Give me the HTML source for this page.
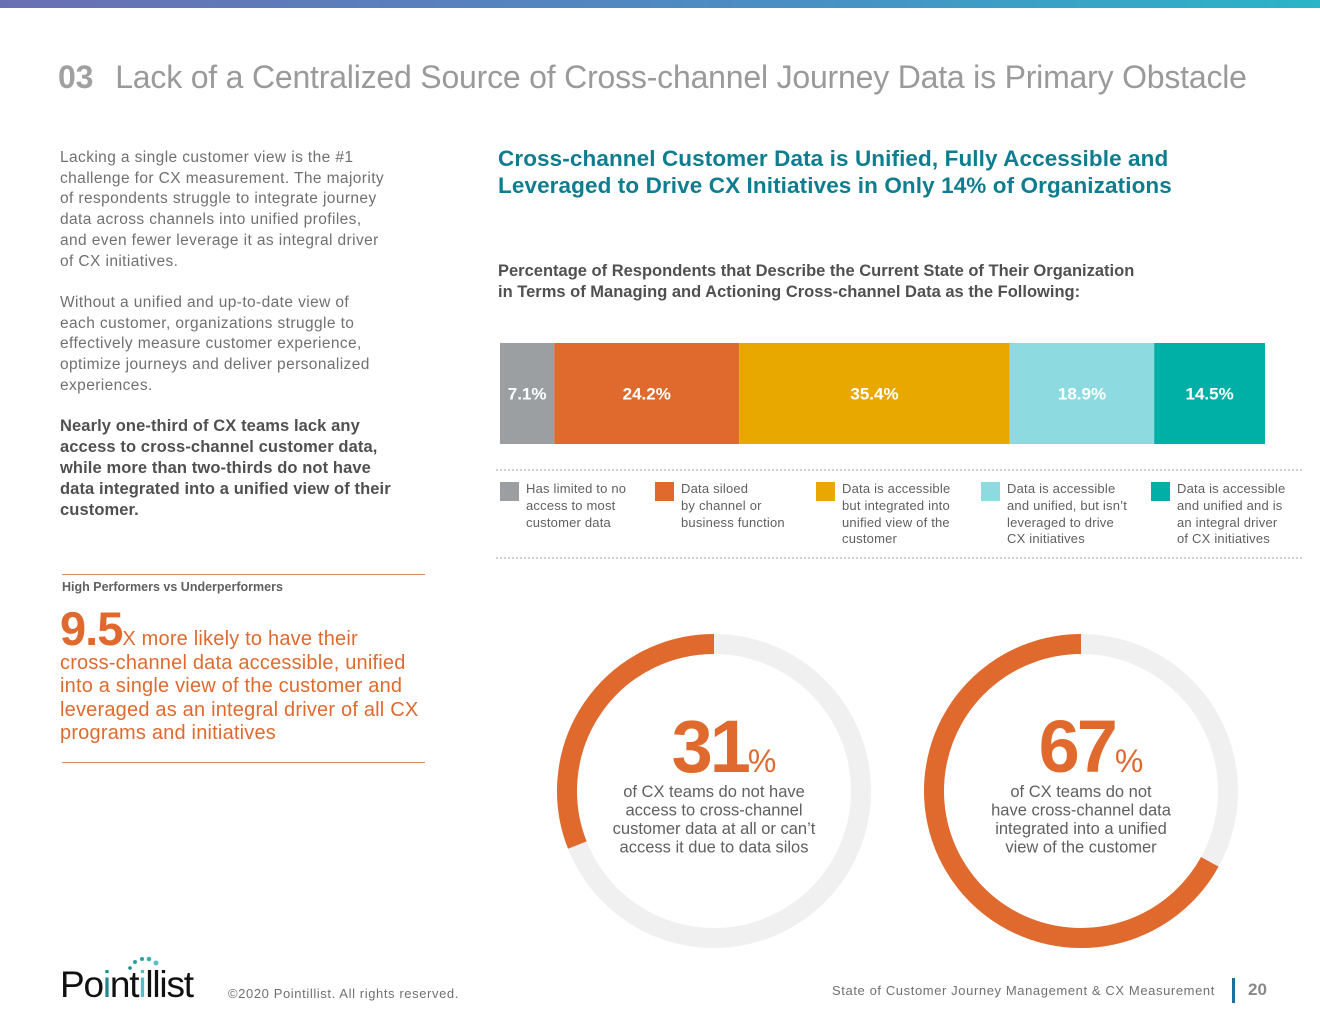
<!DOCTYPE html>
<html><head><meta charset="utf-8">
<style>
*{margin:0;padding:0;box-sizing:border-box}
body{width:1320px;height:1020px;background:#fff;position:relative;overflow:hidden;font-family:"Liberation Sans",sans-serif}
.abs{position:absolute}
.topbar{left:0;top:0;width:1320px;height:8px;background:linear-gradient(90deg,#6a6fb4,#4a8fc4 60%,#2ab5c8)}
.title{left:58px;top:59px;font-size:32px;color:#9a9a9a;white-space:nowrap;letter-spacing:-0.2px}
.title b{color:#a0a0a0;margin-right:22px}
.body{left:60px;font-size:15.5px;line-height:20.7px;color:#707070;white-space:nowrap;letter-spacing:0.4px}
.bold{color:#505050;font-weight:bold;font-size:16.5px;line-height:21px;letter-spacing:0.1px}
.h2{left:498px;top:145px;font-size:22.5px;font-weight:bold;color:#0e7d8f;line-height:27px;white-space:nowrap;letter-spacing:0.1px}
.h3{left:498px;top:261px;font-size:16.5px;font-weight:bold;color:#505050;line-height:20.5px;white-space:nowrap;letter-spacing:0}
.leg{font-size:13px;line-height:16.8px;color:#606060;white-space:nowrap;letter-spacing:0.2px}
.sw{width:19px;height:19px}
.dots{left:496px;width:806px;border-top:2px dotted #d0d0d0}
.hp{left:62px;top:580px;font-size:12.5px;font-weight:bold;color:#606060}
.big{left:60px;top:614px;color:#e06a2e;font-size:20px;line-height:23.5px;white-space:nowrap;letter-spacing:0.2px}
.big span{font-size:47px;font-weight:bold;letter-spacing:-1px;line-height:30px}
.rule{left:62px;width:363px;border-top:1px solid #e08a60}
.foot{font-size:13px;color:#707070;white-space:nowrap}
</style></head><body>
<div class="abs topbar"></div>
<div class="abs title"><b>03</b>Lack of a Centralized Source of Cross-channel Journey Data is Primary Obstacle</div>

<div class="abs body" style="top:148px">Lacking a single customer view is the #1<br>challenge for CX measurement. The majority<br>of respondents struggle to integrate journey<br>data across channels into unified profiles,<br>and even fewer leverage it as integral driver<br>of CX initiatives.</div>
<div class="abs body" style="top:293px">Without a unified and up-to-date view of<br>each customer, organizations struggle to<br>effectively measure customer experience,<br>optimize journeys and deliver personalized<br>experiences.</div>
<div class="abs body bold" style="top:416px">Nearly one-third of CX teams lack any<br>access to cross-channel customer data,<br>while more than two-thirds do not have<br>data integrated into a unified view of their<br>customer.</div>

<div class="abs rule" style="top:574px"></div>
<div class="abs hp">High Performers vs Underperformers</div>
<div class="abs big"><span>9.5</span>X more likely to have their<br>cross-channel data accessible, unified<br>into a single view of the customer and<br>leveraged as an integral driver of all CX<br>programs and initiatives</div>
<div class="abs rule" style="top:762px"></div>

<div class="abs h2">Cross-channel Customer Data is Unified, Fully Accessible and<br>Leveraged to Drive CX Initiatives in Only 14% of Organizations</div>
<div class="abs h3">Percentage of Respondents that Describe the Current State of Their Organization<br>in Terms of Managing and Actioning Cross-channel Data as the Following:</div>

<svg class="abs" style="left:0;top:0" width="1320" height="1020" id="chart"></svg>

<div class="abs dots" style="top:469px"></div>
<div class="abs dots" style="top:557px"></div>
<div id="legend"></div>

<div class="abs" style="left:60px;top:966px">
 <svg width="140" height="40" style="position:absolute;left:0;top:-10px">
  <circle cx="70" cy="12" r="1.8" fill="#1f8a8a"/><circle cx="75" cy="6" r="2" fill="#2aa0a0"/><circle cx="82" cy="3" r="2" fill="#2aa0a0"/><circle cx="89" cy="3" r="2.3" fill="#3ab0b0"/><circle cx="96" cy="7" r="2.5" fill="#5ac0c8"/>
 </svg>
 <div style="font-size:37px;color:#111;letter-spacing:-1.2px;line-height:37px">Po<span style="color:#1f8a8a">i</span>nt<span style="color:#5ab8c8">i</span>llist</div>
</div>
<div class="abs foot" style="left:228px;top:986px;letter-spacing:0.6px">©2020 Pointillist. All rights reserved.</div>
<div class="abs foot" style="left:832px;top:983px;letter-spacing:0.6px">State of Customer Journey Management &amp; CX Measurement</div>
<div class="abs" style="left:1232px;top:978px;width:3px;height:25px;background:#1a6fa0"></div>
<div class="abs" style="left:1248px;top:980px;font-size:17px;font-weight:bold;color:#888">20</div>

<script>
const categories=["Has limited to no access to most customer data","Data siloed by channel or business function","Data is accessible but integrated into unified view of the customer","Data is accessible and unified, but isn't leveraged to drive CX initiatives","Data is accessible and unified and is an integral driver of CX initiatives"];
const values=[7.1,24.2,35.4,18.9,14.5];
const valueLabels=["7.1%","24.2%","35.4%","18.9%","14.5%"];
const legendLines=[["Has limited to no","access to most","customer data"],["Data siloed","by channel or","business function"],["Data is accessible","but integrated into","unified view of the","customer"],["Data is accessible","and unified, but isn’t","leveraged to drive","CX initiatives"],["Data is accessible","and unified and is","an integral driver","of CX initiatives"]];
const colors=["#9c9fa1","#e06a2e","#e9a800","#8ddbe0","#00afa6"];
const donutValues=[31,67];
const donutLabels=["31","67"];
const donutTexts=[["of CX teams do not have","access to cross-channel","customer data at all or can’t","access it due to data silos"],["of CX teams do not","have cross-channel data","integrated into a unified","view of the customer"]];

const NS="http://www.w3.org/2000/svg";
const svg=document.getElementById('chart');
const total=values.reduce((a,b)=>a+b,0);
const X0=500,W=765,Y0=343,H=101;
const xScale=v=>v/total*W;
let acc=0;
values.forEach((v,i)=>{
  const r=document.createElementNS(NS,'rect');
  r.setAttribute('x',X0+xScale(acc));r.setAttribute('y',Y0);
  r.setAttribute('width',xScale(v));r.setAttribute('height',H);r.setAttribute('fill',colors[i]);
  
  
  svg.appendChild(r);
  const t=document.createElementNS(NS,'text');
  t.setAttribute('x',X0+xScale(acc+v/2));t.setAttribute('y',Y0+H/2+6);
  t.setAttribute('text-anchor','middle');t.setAttribute('fill','#fff');
  t.setAttribute('font-size','17');t.setAttribute('font-weight','bold');
  t.setAttribute('font-family','Liberation Sans, sans-serif');
  t.textContent=valueLabels[i];
  
  
  svg.appendChild(t);
  acc+=v;
});
const legX=[500,655,816,981,1151];
const lg=document.getElementById('legend');
categories.forEach((c,i)=>{
  const sw=document.createElement('div');
  sw.className='abs sw';sw.style.left=legX[i]+'px';sw.style.top='482px';sw.style.background=colors[i];
  
  
  lg.appendChild(sw);
  const tx=document.createElement('div');
  tx.className='abs leg';tx.style.left=(legX[i]+26)+'px';tx.style.top='481px';
  tx.innerHTML=legendLines[i].join('<br>');
  tx.title=c;
  
  
  lg.appendChild(tx);
});
const centers=[[714,791],[1081,791]];
const R=147,SW=20;
donutValues.forEach((v,i)=>{
  const [cx,cy]=centers[i];
  const bg=document.createElementNS(NS,'circle');
  bg.setAttribute('cx',cx);bg.setAttribute('cy',cy);bg.setAttribute('r',R);
  bg.setAttribute('fill','none');bg.setAttribute('stroke','#f0f0f0');bg.setAttribute('stroke-width',SW);
  
  
  svg.appendChild(bg);
  const a=-2*Math.PI*v/100;
  const x1=cx,y1=cy-R,x2=cx+R*Math.sin(a),y2=cy-R*Math.cos(a);
  const large=v>50?1:0;
  const p=document.createElementNS(NS,'path');
  p.setAttribute('d',`M${x1} ${y1} A${R} ${R} 0 ${large} 0 ${x2} ${y2}`);
  p.setAttribute('fill','none');p.setAttribute('stroke','#e06a2e');p.setAttribute('stroke-width',SW);
  
  
  svg.appendChild(p);
  const t=document.createElementNS(NS,'text');
  t.setAttribute('x',cx+10);t.setAttribute('y',cy-19);t.setAttribute('text-anchor','middle');
  t.setAttribute('fill','#e06a2e');t.setAttribute('font-family','Liberation Sans, sans-serif');
  t.innerHTML=`<tspan font-size="74" font-weight="bold" letter-spacing="-3">${donutLabels[i]}</tspan><tspan font-size="32">%</tspan>`;
  
  
  svg.appendChild(t);
  donutTexts[i].forEach((ln,j)=>{
    const s=document.createElementNS(NS,'text');
    s.setAttribute('x',cx);s.setAttribute('y',cy+6+j*18.5);s.setAttribute('text-anchor','middle');
    s.setAttribute('fill','#606060');s.setAttribute('font-size','16.5');
    s.setAttribute('font-family','Liberation Sans, sans-serif');
    s.textContent=ln;
    
    
    svg.appendChild(s);
  });
});
</script>
</body></html>
